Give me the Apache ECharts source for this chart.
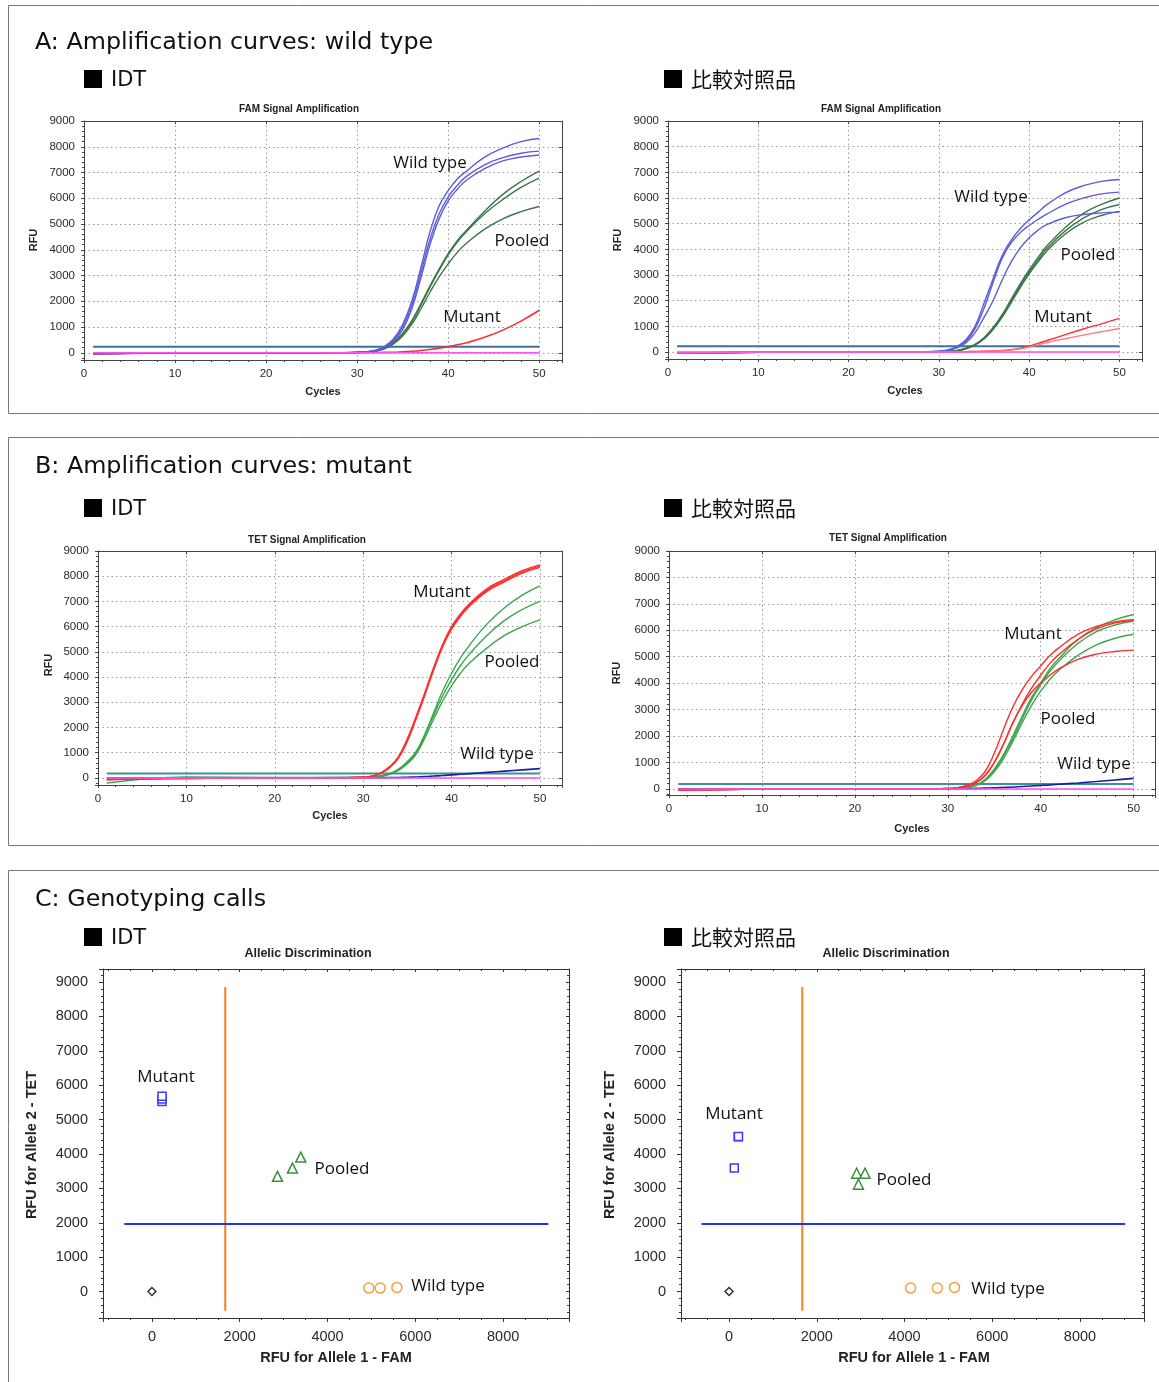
<!DOCTYPE html>
<html>
<head>
<meta charset="utf-8">
<script src="https://cdn.jsdelivr.net/npm/echarts@6/dist/echarts.min.js"></script>
<style>
  html, body { margin: 0; padding: 0; background: #fff; }
  #main { width: 1159px; height: 1382px; }
</style>
</head>
<body>
<div id="main"></div>
<script>
// sampled cycles shared by every amplification curve
const cycles = [1, 10, 20, 28, 30, 31, 32, 33, 34, 35, 36, 37, 38, 39, 40, 41, 42, 44, 46, 48, 50];

// A: FAM signal, IDT
const famIdtWild = [
  [-30, -10, 0, 5, 15, 40, 100, 250, 550, 1100, 2000, 3300, 4700, 5700, 6300, 6750, 7050, 7600, 7950, 8200, 8320],
  [-30, -10, 0, 5, 15, 35, 90, 220, 500, 1000, 1850, 3100, 4400, 5400, 6050, 6500, 6850, 7300, 7580, 7750, 7830],
  [-30, -10, 0, 5, 12, 30, 80, 200, 450, 900, 1700, 2900, 4200, 5200, 5900, 6350, 6700, 7150, 7450, 7600, 7680]
];
const famIdtPooled = [
  [-40, -10, 0, 5, 15, 35, 80, 180, 400, 750, 1250, 1900, 2600, 3250, 3850, 4350, 4750, 5500, 6150, 6650, 7050],
  [-40, -10, 0, 5, 12, 30, 70, 170, 380, 720, 1200, 1850, 2550, 3200, 3800, 4300, 4700, 5400, 5950, 6420, 6780],
  [-40, -10, 0, 5, 10, 25, 60, 150, 340, 650, 1100, 1700, 2350, 2950, 3450, 3900, 4250, 4800, 5200, 5480, 5680]
];
const famIdtMutant = [
  [-30, -10, 0, 0, 5, 8, 12, 16, 20, 40, 60, 90, 130, 180, 240, 310, 390, 600, 880, 1230, 1650]
];

// A: FAM signal, comparator
const famCompWild = [
  [-30, -10, 0, 10, 30, 80, 220, 480, 1000, 1900, 2850, 3750, 4350, 4800, 5150, 5450, 5750, 6200, 6480, 6650, 6720],
  [-30, -10, 0, 10, 25, 70, 190, 420, 900, 1700, 2700, 3650, 4250, 4650, 4930, 5170, 5380, 5750, 6000, 6160, 6230],
  [-30, -10, 0, 10, 20, 60, 160, 360, 750, 1350, 2000, 2800, 3500, 4050, 4450, 4750, 4970, 5230, 5360, 5420, 5450]
];
const famCompPooled = [
  [-40, -10, 0, 5, 15, 30, 60, 150, 300, 560, 950, 1450, 2050, 2650, 3200, 3700, 4150, 4850, 5400, 5750, 6000],
  [-40, -10, 0, 5, 12, 28, 55, 140, 285, 530, 910, 1400, 1980, 2580, 3120, 3600, 4050, 4720, 5220, 5550, 5750],
  [-40, -10, 0, 5, 10, 25, 50, 130, 270, 510, 880, 1350, 1920, 2500, 3050, 3520, 3950, 4600, 5050, 5320, 5480]
];
const famCompMutant = [
  [-30, -10, 0, 0, 5, 8, 12, 18, 25, 30, 40, 60, 90, 150, 230, 340, 450, 680, 900, 1100, 1310],
  [-30, -10, 0, 0, 5, 8, 12, 18, 25, 30, 40, 55, 80, 130, 200, 285, 370, 520, 660, 790, 920]
];

// B: TET signal, IDT
const tetIdtMutant = [
  [-60, -20, 0, 10, 30, 70, 200, 450, 850, 1550, 2450, 3400, 4400, 5300, 6000, 6500, 6900, 7500, 7880, 8220, 8450],
  [-60, -20, 0, 10, 28, 65, 190, 430, 820, 1500, 2400, 3350, 4350, 5250, 5950, 6450, 6850, 7450, 7830, 8170, 8400],
  [-60, -20, 0, 10, 25, 60, 180, 410, 790, 1450, 2350, 3300, 4300, 5200, 5900, 6400, 6800, 7400, 7780, 8120, 8350]
];
const tetIdtPooled = [
  [-200, 40, 20, 20, 30, 50, 80, 170, 350, 650, 1050, 1750, 2600, 3450, 4150, 4750, 5250, 6100, 6750, 7250, 7620],
  [-60, 10, 10, 15, 25, 40, 70, 150, 320, 600, 1000, 1700, 2500, 3250, 3900, 4450, 4900, 5650, 6250, 6680, 7000],
  [-60, 10, 10, 15, 20, 35, 60, 140, 300, 560, 950, 1600, 2350, 3050, 3650, 4150, 4550, 5150, 5650, 6000, 6270]
];
const tetIdtWild = [
  [0, 0, 0, 0, 0, 5, 10, 15, 20, 30, 40, 55, 75, 95, 120, 145, 170, 220, 270, 320, 370]
];

// B: TET signal, comparator
const tetCompMutant = [
  [-40, -10, 0, 5, 20, 50, 130, 300, 650, 1350, 2250, 3100, 3750, 4250, 4650, 5050, 5350, 5850, 6150, 6320, 6400],
  [-40, -10, 0, 5, 15, 40, 100, 230, 500, 1000, 1700, 2500, 3200, 3800, 4300, 4750, 5100, 5650, 6050, 6280, 6380],
  [-40, -10, 0, 5, 15, 40, 100, 230, 500, 1000, 1700, 2500, 3150, 3650, 4000, 4300, 4550, 4900, 5100, 5200, 5250]
];
const tetCompPooled = [
  [-30, -10, 0, 5, 15, 25, 50, 150, 350, 750, 1300, 2000, 2750, 3450, 4000, 4550, 4950, 5650, 6100, 6400, 6600],
  [-30, -10, 0, 5, 12, 22, 45, 140, 330, 700, 1250, 1900, 2650, 3350, 3950, 4450, 4850, 5500, 5950, 6200, 6350],
  [-30, -10, 0, 5, 10, 20, 40, 130, 300, 650, 1150, 1800, 2500, 3150, 3700, 4150, 4500, 5050, 5450, 5700, 5850]
];
const tetCompWild = [
  [0, 0, 0, 0, 0, 5, 10, 20, 30, 40, 55, 70, 90, 110, 130, 150, 175, 225, 280, 340, 400]
];

// thresholds (RFU) per amplification panel: A-IDT, A-comp, B-IDT, B-comp
const thresholds = [230, 230, 180, 190];

// C: allelic discrimination [FAM, TET]
const idtMutantPts = [[230, 5530], [230, 5600], [230, 5680]];
const idtPooledPts = [[2860, 3350], [3200, 3590], [3390, 3910]];
const idtWildPts = [[4940, 100], [5200, 100], [5580, 120]];
const compMutantPts = [[210, 4500], [215, 4510], [120, 3590]];
const compPooledPts = [[2910, 3440], [3100, 3440], [2950, 3120]];
const compWildPts = [[4140, 100], [4750, 100], [5140, 120]];
const ntcPts = [[0, 0]];
// cut-off lines: [position, start, end]
const famCutoff = [1670, -560, 8860];
const tetCutoff = [1965, -630, 9030];

const FONT = 'Liberation Sans, Arial, sans-serif';
const HEAD = 'DejaVu Sans, sans-serif';
const CJK = 'Noto Sans CJK JP, sans-serif';

// plot frames in pixels and axis extents
const frames = [
  { left: 84, top: 121, width: 478, height: 239, x: [0, 52.5], y: [-280, 9000] },
  { left: 668, top: 121, width: 474, height: 238, x: [0, 52.5], y: [-270, 9000] },
  { left: 98, top: 551, width: 464, height: 234, x: [0, 52.5], y: [-280, 9000] },
  { left: 669, top: 551, width: 486, height: 244, x: [0, 52.3], y: [-230, 9000] },
  { left: 103, top: 969, width: 466, height: 349, x: [-1115, 9500], y: [-770, 9380] },
  { left: 681, top: 969, width: 463, height: 349, x: [-1095, 9460], y: [-770, 9380] }
];

const grids = [], xAxes = [], yAxes = [], series = [];

frames.forEach((f, i) => {
  const scatter = i >= 4;
  const xStep = scatter ? 2000 : 10;
  const fs = scatter ? 14.5 : 11.5;
  const tickCol = scatter ? '#333' : '#444';
  const base = {
    gridIndex: i, type: 'value',
    axisTick: { show: true, length: scatter ? 4 : 3, lineStyle: { color: tickCol } },
    axisLine: { show: true, onZero: false, lineStyle: { color: tickCol, width: 1 } }
  };
  grids.push({ left: f.left, top: f.top, width: f.width, height: f.height });
  xAxes.push(Object.assign({}, base, {
    position: 'bottom', min: f.x[0], max: f.x[1], splitNumber: 5,
    minorTick: { show: true, splitNumber: scatter ? 4 : 5, length: 2, lineStyle: { color: tickCol } },
    axisLabel: {
      margin: scatter ? 11 : 8, fontSize: fs, color: '#2a2a2a', fontFamily: FONT,
      formatter: v => (Math.abs(v % xStep) < 1e-6 ? String(v) : '')
    },
    splitLine: { show: !scatter, lineStyle: { type: [1.5, 3], color: '#9a9a9a' } }
  }));
  xAxes.push(Object.assign({}, base, {
    position: 'top', min: f.x[0], max: f.x[1], splitNumber: 5,
    axisTick: { show: true, inside: true, length: 3, lineStyle: { color: tickCol } },
    minorTick: { show: scatter, splitNumber: 4, length: 2, lineStyle: { color: tickCol } },
    axisLabel: { show: false }, splitLine: { show: false }
  }));
  yAxes.push(Object.assign({}, base, {
    position: 'left', min: f.y[0], max: f.y[1], splitNumber: 9,
    minorTick: { show: true, splitNumber: 5, length: 2, lineStyle: { color: tickCol } },
    axisLabel: {
      margin: scatter ? 15 : 9, fontSize: fs, color: '#2a2a2a', fontFamily: FONT,
      formatter: v => (Math.abs(v % 1000) < 1e-6 ? String(v) : '')
    },
    splitLine: { show: !scatter, lineStyle: { type: [1.5, 3], color: '#9a9a9a' } }
  }));
  yAxes.push(Object.assign({}, base, {
    position: 'right', min: f.y[0], max: f.y[1], splitNumber: 9,
    axisTick: { show: true, inside: true, length: 3, lineStyle: { color: tickCol } },
    minorTick: { show: scatter, splitNumber: 5, length: 2, lineStyle: { color: tickCol } },
    axisLabel: { show: false }, splitLine: { show: false }
  }));
});

function curve(i, ys, color, width) {
  return {
    type: 'line', xAxisIndex: 2 * i, yAxisIndex: 2 * i, silent: true,
    data: cycles.map((c, k) => [c, ys[k]]),
    showSymbol: false, symbol: 'none', smooth: 0.45,
    lineStyle: { color: color, width: width || 1.4 }
  };
}
function flat(i, v, color, width) {
  return {
    type: 'line', xAxisIndex: 2 * i, yAxisIndex: 2 * i, silent: true,
    data: [[cycles[0], v], [cycles[cycles.length - 1], v]],
    showSymbol: false, symbol: 'none',
    lineStyle: { color: color, width: width }
  };
}
function dots(i, pts, symbol, size, color) {
  return {
    type: 'scatter', xAxisIndex: 2 * i, yAxisIndex: 2 * i, silent: true,
    data: pts, symbol: symbol, symbolSize: size, z: 5,
    itemStyle: { color: '#fff', borderColor: color, borderWidth: 1.5, opacity: 1 }
  };
}
function segment(i, pts, color) {
  return {
    type: 'line', xAxisIndex: 2 * i, yAxisIndex: 2 * i, silent: true,
    data: pts, showSymbol: false, symbol: 'none',
    lineStyle: { color: color, width: 2 }
  };
}

const WT_A = '#5c5cd8', POOL_A = '#3b7548', RED = '#ff2e2e', RED_L = '#ff7b7b';
const POOL_B = '#3ca64b', WT_B = '#1c1ca0', THR_A = '#3f6f9c', THR_B = '#3a9297', NTC = '#ff4dff';

// panel 0: A IDT
series.push(flat(0, thresholds[0], THR_A, 2));
famIdtPooled.forEach(d => series.push(curve(0, d, POOL_A)));
famIdtWild.forEach(d => series.push(curve(0, d, WT_A)));
famIdtMutant.forEach(d => series.push(curve(0, d, RED, 1.6)));
series.push(flat(0, 0, NTC, 1.5));
// panel 1: A comparator
series.push(flat(1, thresholds[1], THR_A, 2));
famCompPooled.forEach(d => series.push(curve(1, d, POOL_A)));
famCompWild.forEach(d => series.push(curve(1, d, WT_A)));
famCompMutant.forEach((d, k) => series.push(curve(1, d, k ? RED_L : RED, 1.4)));
series.push(flat(1, 0, NTC, 1.5));
// panel 2: B IDT
series.push(flat(2, thresholds[2], THR_B, 2));
tetIdtWild.forEach(d => series.push(curve(2, d, WT_B, 1.6)));
tetIdtPooled.forEach(d => series.push(curve(2, d, POOL_B)));
tetIdtMutant.forEach(d => series.push(curve(2, d, RED)));
series.push(flat(2, 0, NTC, 1.5));
// panel 3: B comparator
series.push(flat(3, thresholds[3], THR_B, 2));
tetCompWild.forEach(d => series.push(curve(3, d, WT_B, 1.6)));
tetCompPooled.forEach(d => series.push(curve(3, d, POOL_B)));
tetCompMutant.forEach(d => series.push(curve(3, d, RED)));
series.push(flat(3, 0, NTC, 1.5));
// panels 4, 5: allelic discrimination
[[idtMutantPts, idtPooledPts, idtWildPts], [compMutantPts, compPooledPts, compWildPts]].forEach((g, k) => {
  const i = 4 + k;
  series.push(segment(i, [[famCutoff[0], famCutoff[1]], [famCutoff[0], famCutoff[2]]], '#f5821f'));
  series.push(segment(i, [[tetCutoff[1], tetCutoff[0]], [tetCutoff[2], tetCutoff[0]]], '#2233ff'));
  series.push(dots(i, g[0], 'rect', 8, '#3b3bff'));
  series.push(dots(i, g[1], 'triangle', 10, '#3a8f3a'));
  series.push(dots(i, g[2], 'circle', 10, '#f5a040'));
  series.push(dots(i, ntcPts, 'diamond', 8, '#333'));
});

// texts and boxes
const graphic = [];
function txt(x, y, text, size, opts) {
  graphic.push(Object.assign({
    type: 'text', x: x, y: y, silent: true,
    style: Object.assign({
      text: text, fontSize: size, fontFamily: FONT, fill: '#111',
      textAlign: 'center', textVerticalAlign: 'middle'
    }, (opts && opts.style) || {})
  }, (opts && opts.el) || {}));
}
[[5, 408], [437, 408], [870, 600]].forEach(b => {
  graphic.push({ type: 'rect', silent: true, shape: { x: 8.5, y: b[0] + 0.5, width: 1200, height: b[1] },
    style: { fill: 'none', stroke: '#777', lineWidth: 1 } });
});
const headings = [
  [40, 79, 'A: Amplification curves: wild type'],
  [464, 508, 'B: Amplification curves: mutant'],
  [897, 937, 'C: Genotyping calls']
];
headings.forEach(h => {
  txt(35, h[0] + 2.5, h[2], 23.8, { style: { fontFamily: HEAD, textAlign: 'left', fill: '#111' } });
  graphic.push({ type: 'rect', silent: true, shape: { x: 84, y: h[1] - 9, width: 18, height: 18 }, style: { fill: '#000' } });
  graphic.push({ type: 'rect', silent: true, shape: { x: 664, y: h[1] - 9, width: 18, height: 18 }, style: { fill: '#000' } });
  txt(111, h[1] + 2, 'IDT', 21, { style: { fontFamily: HEAD, textAlign: 'left' } });
  txt(691, h[1], '比較対照品', 21, { style: { fontFamily: CJK, textAlign: 'left' } });
});

// plot titles
const boldSmall = { style: { fontWeight: 'bold', fill: '#222' } };
txt(299, 109, 'FAM Signal Amplification', 10, boldSmall);
txt(881, 109, 'FAM Signal Amplification', 10, boldSmall);
txt(307, 540, 'TET Signal Amplification', 10, boldSmall);
txt(888, 538, 'TET Signal Amplification', 10, boldSmall);
txt(308, 954, 'Allelic Discrimination', 12.5, boldSmall);
txt(886, 954, 'Allelic Discrimination', 12.5, boldSmall);

// axis names
const rot = { style: { fontWeight: 'bold', fill: '#222' }, el: { rotation: Math.PI / 2 } };
txt(34, 240, 'RFU', 11, rot);
txt(618, 240, 'RFU', 11, rot);
txt(49, 665, 'RFU', 11, rot);
txt(617, 673, 'RFU', 11, rot);
txt(323, 392, 'Cycles', 11, boldSmall);
txt(905, 391, 'Cycles', 11, boldSmall);
txt(330, 816, 'Cycles', 11, boldSmall);
txt(912, 829, 'Cycles', 11, boldSmall);
txt(32, 1145, 'RFU for Allele 2 - TET', 14.5, rot);
txt(610, 1145, 'RFU for Allele 2 - TET', 14.5, rot);
txt(336, 1358, 'RFU for Allele 1 - FAM', 14.5, boldSmall);
txt(914, 1358, 'RFU for Allele 1 - FAM', 14.5, boldSmall);

// in-plot annotations
const ann = { style: { fontFamily: 'Open Sans, sans-serif', fill: '#111' } };
[
  [430, 163, 'Wild type'], [522, 241, 'Pooled'], [472, 317, 'Mutant'],
  [991, 197, 'Wild type'], [1088, 255, 'Pooled'], [1063, 317, 'Mutant'],
  [442, 592, 'Mutant'], [512, 662, 'Pooled'], [497, 754, 'Wild type'],
  [1033, 634, 'Mutant'], [1068, 719, 'Pooled'], [1094, 764, 'Wild type'],
  [166, 1077, 'Mutant'], [342, 1169, 'Pooled'], [448, 1286, 'Wild type'],
  [734, 1114, 'Mutant'], [904, 1180, 'Pooled'], [1008, 1289, 'Wild type']
].forEach(a => txt(a[0], a[1], a[2], 17, ann));

const chart = echarts.init(document.getElementById('main'), null, { renderer: 'canvas' });
chart.setOption({
  animation: false,
  backgroundColor: '#fff',
  grid: grids,
  xAxis: xAxes,
  yAxis: yAxes,
  series: series,
  graphic: graphic
});
window.addEventListener('resize', () => chart.resize());
</script>
</body>
</html>
